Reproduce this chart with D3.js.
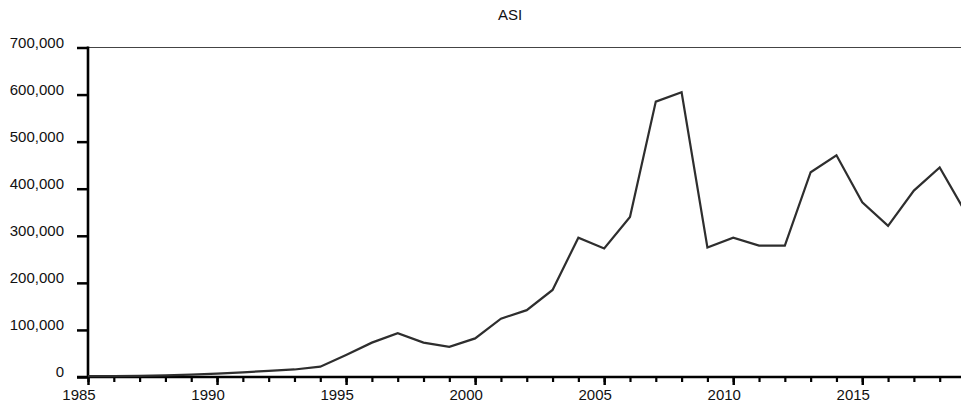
<!DOCTYPE html>
<html>
<head>
<meta charset="utf-8">
<script src="https://cdn.jsdelivr.net/npm/d3@7/dist/d3.min.js"></script>
<style>
  html, body { margin: 0; padding: 0; background: #fff; }
  svg { display: block; font-family: "Liberation Sans", Arial, sans-serif; }
</style>
</head>
<body>
<svg id="chart" width="961" height="406"></svg>
<script>
// Annual ASI series
const years = [1985, 1986, 1987, 1988, 1989, 1990, 1991, 1992, 1993, 1994,
               1995, 1996, 1997, 1998, 1999, 2000, 2001, 2002, 2003, 2004,
               2005, 2006, 2007, 2008, 2009, 2010, 2011, 2012, 2013, 2014,
               2015, 2016, 2017, 2018, 2019];
const asi = [2000, 2000, 2500, 3500, 5000, 7000, 10000, 13000, 16000, 22000,
             47000, 73000, 93000, 73000, 64000, 82000, 124000, 142000, 185000, 296000,
             273000, 340000, 585000, 605000, 275000, 296000, 279000, 279000, 435000, 471000,
             371000, 321000, 396000, 445000, 350000];
const yTicks = [0, 100000, 200000, 300000, 400000, 500000, 600000, 700000];
const xMajorTicks = [1985, 1990, 1995, 2000, 2005, 2010, 2015];
const title = "ASI";

const svg = d3.select("#chart");
const W = 961;

const x = d3.scaleLinear().domain([1985, 2019]).range([88, 965.5]);
const y = d3.scaleLinear().domain([0, 700000]).range([377, 47.5]);

// title
svg.append("text")
  .attr("x", 510).attr("y", 20)
  .attr("text-anchor", "middle")
  .attr("font-size", 15)
  .attr("fill", "#111")
  .text(title);

// top frame line
svg.append("line")
  .attr("x1", 77).attr("x2", W)
  .attr("y1", y(700000)).attr("y2", y(700000))
  .attr("stroke", "#444").attr("stroke-width", 1.2);

// y axis
const yAxis = d3.axisLeft(y)
  .tickValues(yTicks)
  .tickSize(11)
  .tickPadding(13)
  .tickFormat(d3.format(","));
const gy = svg.append("g").attr("transform", `translate(${x(1985)},0)`).call(yAxis);
gy.select(".domain").remove();
gy.selectAll(".tick line").attr("stroke", "#000").attr("stroke-width", 2.5);
gy.selectAll(".tick text")
  .attr("font-size", 15).attr("fill", "#111")
  .attr("font-family", "Liberation Sans, Arial, sans-serif")
  .attr("dy", "-0.02em");
svg.append("line")
  .attr("x1", x(1985)).attr("x2", x(1985))
  .attr("y1", y(700000) - 1).attr("y2", y(0) + 1)
  .attr("stroke", "#000").attr("stroke-width", 2.6);

// x axis: minor yearly ticks, major every five years
const gxMinor = svg.append("g").attr("transform", `translate(0,${y(0)})`)
  .call(d3.axisBottom(x).tickValues(years).tickSize(5).tickFormat(""));
gxMinor.select(".domain").remove();
gxMinor.selectAll(".tick line").attr("stroke", "#000").attr("stroke-width", 2.2);

const gx = svg.append("g").attr("transform", `translate(0,${y(0)})`)
  .call(d3.axisBottom(x).tickValues(xMajorTicks).tickSize(8).tickPadding(4).tickFormat(d3.format("d")));
gx.select(".domain").remove();
gx.selectAll(".tick line").attr("stroke", "#000").attr("stroke-width", 2.5);
gx.selectAll(".tick text")
  .attr("font-size", 15).attr("fill", "#111")
  .attr("font-family", "Liberation Sans, Arial, sans-serif")
  .attr("dx", -9.5);

svg.append("line")
  .attr("x1", 77).attr("x2", W)
  .attr("y1", y(0)).attr("y2", y(0))
  .attr("stroke", "#000").attr("stroke-width", 2.6);

// series line
const line = d3.line()
  .x((d, i) => x(years[i]))
  .y(d => y(d));
svg.append("path")
  .datum(asi)
  .attr("d", line)
  .attr("fill", "none")
  .attr("stroke", "#2e2e2e")
  .attr("stroke-width", 2.2)
  .attr("stroke-linejoin", "miter");
</script>
</body>
</html>
